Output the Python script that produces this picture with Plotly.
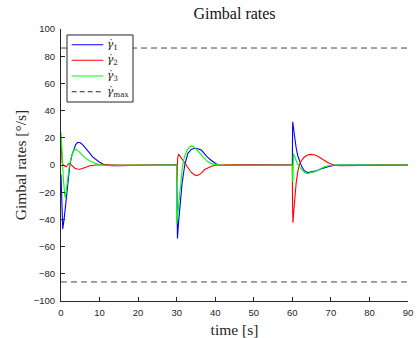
import plotly.graph_objects as go

# Gimbal rate histories [deg/s] for the three gimbals, sampled around the three manoeuvres
t_g1 = [0, 0.2, 0.45, 0.8, 1.2, 1.7, 2.3, 2.8, 3.3, 3.8, 4.4, 5.0, 5.6, 6.3, 7.0, 7.5, 8.2, 9.1, 10, 11, 12, 13, 15, 17, 20, 24,
        30, 30.05, 30.2, 30.5, 30.8, 31.4, 32.1, 32.9, 33.8, 34.7, 35.5, 36.4, 37.3, 37.9, 39, 40, 40.7, 42, 44, 46, 50, 55,
        60, 60.05, 60.1, 60.4, 60.7, 61.0, 61.4, 61.8, 62.4, 63.0, 63.5, 64.1, 65.0, 66.5, 67.3, 68.2, 69.5, 71, 73, 90]
gamma1 = [-7, -30, -47, -40, -28, -13, 0, 7, 12, 15, 16.7, 16.3, 15, 12.8, 10.2, 8.5, 6, 3.7, 2, 0.6, -0.2, -0.5, -0.5, -0.3, -0.1, 0,
          0, -20, -54, -42, -30.6, -13.5, 0, 8.6, 11.5, 12.3, 12, 11, 8, 6, 3.3, 1.2, 0, -0.4, -0.5, -0.3, -0.1, 0,
          0, 20, 31.8, 25, 18, 12.5, 7, 3.3, -1, -3.8, -5, -5.6, -5.2, -4, -3, -2, -1, -0.2, 0, 0]

t_g2 = [0, 0.1, 0.3, 0.6, 1.0, 1.3, 1.7, 2.0, 2.4, 3.0, 3.6, 4.2, 4.8, 5.5, 6.3, 7.5, 9, 10, 12, 15,
        30, 30.03, 30.1, 30.25, 30.5, 31.0, 31.6, 32.1, 32.9, 33.8, 34.5, 35.1, 35.8, 36.4, 37.3, 37.9, 39, 40, 41, 43, 46, 50,
        60, 60.05, 60.15, 60.4, 60.7, 61.0, 61.4, 61.8, 62.3, 63.0, 63.8, 64.7, 65.6, 66.5, 67.4, 68.2, 69.2, 70.2, 71, 72.5,
        75, 78, 82, 85, 90]
gamma2 = [18, 10, 1.5, 0, -1, -1.3, 0, 1.2, 0.8, -1, -2.4, -3, -3.1, -2.6, -1.7, -0.6, 0, 0.2, 0.1, 0,
          0, -12, -5, 5, 8, 6, 3.5, 1.2, -2.5, -5.5, -7, -7.8, -7.2, -6, -3.3, -2.3, -0.9, -0.2, 0, 0.2, 0.1, 0,
          0, -25, -42.5, -33, -22, -13, -5, 0, 3, 5.5, 7.2, 7.8, 7.5, 6.6, 5, 3.5, 1.8, 0.6, 0, -0.5,
          -0.6, -0.4, -0.1, 0, 0]

t_g3 = [0, 0.1, 0.35, 0.6, 0.85, 1.04, 1.3, 1.7, 2.2, 2.7, 3.1, 3.6, 4.1, 4.8, 5.5, 6.3, 7.5, 8.2, 9.1, 10, 11, 13, 16, 20,
        30, 30.05, 30.5, 31.0, 31.5, 32.0, 32.7, 33.4, 33.9, 34.6, 35.4, 36.3, 37.3, 38.0, 39, 40, 41, 43, 47, 50,
        60, 60.03, 60.15, 60.3, 60.6, 61.3, 62.0, 62.6, 63.2, 63.9, 64.8, 65.7, 66.5, 67.3, 68.2, 69.5, 71, 90]
gamma3 = [24, 20, 5, -10, -20, -24, -20, -10, 0, 6, 9.5, 11.8, 11.3, 9.5, 7.5, 5.2, 3, 2, 1, 0.4, 0, -0.2, -0.1, 0,
          0, -43, -28, -12, -1, 6, 11, 13.5, 14, 13, 10.5, 7, 4, 2.5, 1, 0.2, -0.1, -0.2, -0.1, 0,
          0, -12, -12, 8.5, 6, 1, -2, -4, -5.6, -6.3, -5.8, -5, -4, -2.8, -1.5, -0.5, 0, 0]

# Gimbal rate limit [deg/s]
gamma_max = 86
t_span = [0, 90]

x_ticks = list(range(0, 91, 10))
y_ticks = list(range(-100, 101, 20))

legend_subscripts = ["1", "2", "3", "max"]
line_colors = ["#0000ff", "#ff0000", "#00ff00", "#262626"]
line_dashes = ["solid", "solid", "solid", "dash"]

AXIS_COLOR = "#262626"
SERIF = "Liberation Serif"
MATH = "DejaVu Serif"
SANS = "Liberation Sans"

fig = go.Figure()
for tx, gy, col in [(t_g1, gamma1, line_colors[0]), (t_g2, gamma2, line_colors[1]), (t_g3, gamma3, line_colors[2])]:
    fig.add_trace(go.Scatter(x=tx, y=gy, mode="lines", line=dict(color=col, width=1.1), hoverinfo="skip"))

# upper and lower limit lines as one dashed trace
fig.add_trace(go.Scatter(
    x=[t_span[0], t_span[1], None, t_span[0], t_span[1]],
    y=[gamma_max, gamma_max, None, -gamma_max, -gamma_max],
    mode="lines", line=dict(color="#333333", width=0.9, dash="6px,4px"), hoverinfo="skip"))

axis_common = dict(
    showgrid=False, zeroline=False, showline=True, linecolor=AXIS_COLOR, linewidth=1,
    ticks="inside", ticklen=4, tickwidth=1, tickcolor=AXIS_COLOR, mirror=False,
    ticklabelstandoff=3, automargin=False,
    tickfont=dict(family=SANS, size=9.5, color=AXIS_COLOR),
)
fig.update_xaxes(range=t_span, tickvals=x_ticks, **axis_common,
                 title=dict(text="time [s]", font=dict(family=SERIF, size=15.5, color="#262626"), standoff=7))
fig.update_yaxes(range=[-100, 100], tickvals=y_ticks, **axis_common,
                 title=dict(text="Gimbal rates [°/s]", font=dict(family=SERIF, size=15.5, color="#262626"), standoff=3))

# hand-drawn legend box in the upper-left corner of the axes
shapes = [dict(type="rect", xref="paper", yref="paper", x0=0.0173, x1=0.2075, y0=0.7316, y1=0.978,
               line=dict(color=AXIS_COLOR, width=1), fillcolor="white", layer="above")]
annotations = []
row_y = [0.9423, 0.8849, 0.8272, 0.7695]
for sub, col, dsh, yy in zip(legend_subscripts, line_colors, line_dashes, row_y):
    shapes.append(dict(type="line", xref="paper", yref="paper", x0=0.0308, x1=0.1219, y0=yy, y1=yy,
                       line=dict(color=col, width=1.1, dash="5px,3px" if dsh == "dash" else "solid"), layer="above"))
    annotations.append(dict(text=f"<i>γ̇</i><sub>{sub}</sub>", xref="paper", yref="paper", x=0.1282, y=yy,
                            xanchor="left", yanchor="middle", showarrow=False,
                            font=dict(family=MATH, size=10.5, color="#111111")))

fig.update_layout(
    width=417, height=338,
    margin=dict(l=61, r=9, t=29, b=37),
    plot_bgcolor="white", paper_bgcolor="white",
    showlegend=False,
    title=dict(text="Gimbal rates", x=0.5, xref="paper", y=1 - 13 / 338, yref="container",
               xanchor="center", yanchor="middle", font=dict(family=SERIF, size=16, color="#111111")),
    shapes=shapes, annotations=annotations,
)

fig.write_html("out.html")
